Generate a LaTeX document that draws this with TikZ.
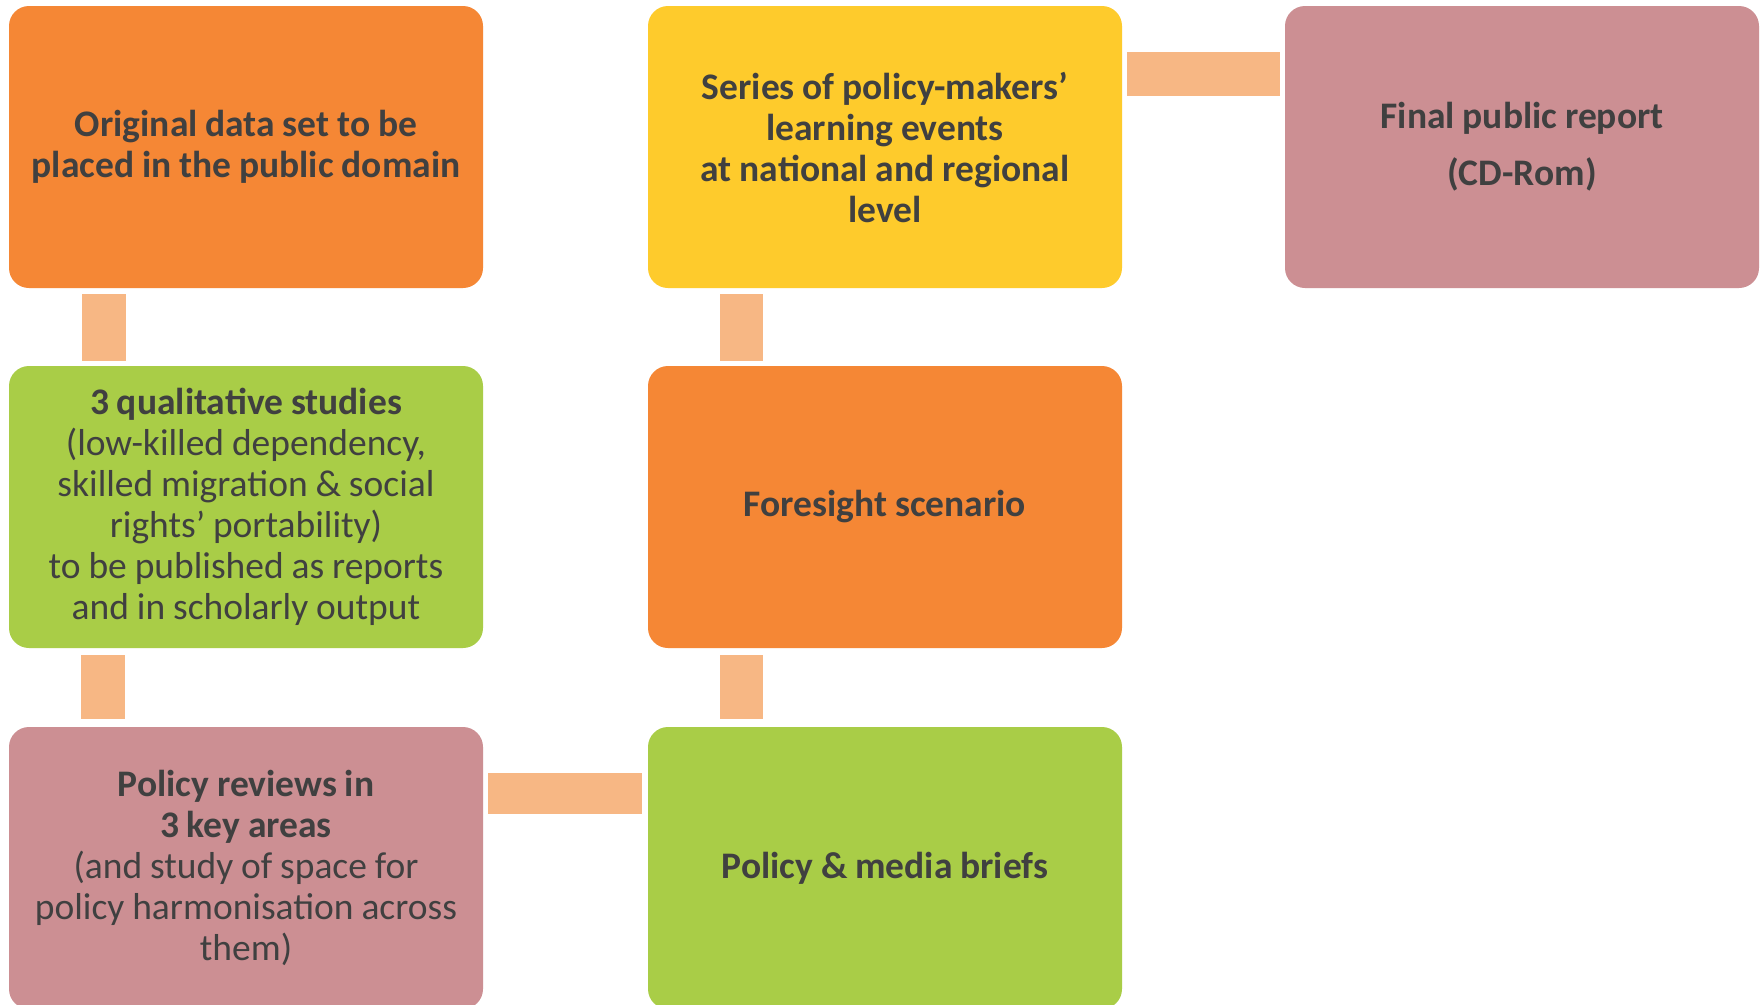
\documentclass[tikz,border=0pt]{standalone}
\usepackage{fontspec}
\setmainfont{Carlito}
\usetikzlibrary{calc}
\newcommand\tightspaces{\spaceskip=0.21em\relax}
\definecolor{corange}{HTML}{F58735}
\definecolor{cyellow}{HTML}{FECB2C}
\definecolor{cgreen}{HTML}{A9CD47}
\definecolor{cpink}{HTML}{CC8F93}
\definecolor{cconn}{HTML}{F7B784}
\definecolor{ctext}{HTML}{404040}
\begin{document}
\begin{tikzpicture}[x=1pt,y=-1pt,
  box/.style={rounded corners=20pt, minimum width=474pt, minimum height=282pt,
    inner sep=0pt, align=center, text=ctext, text width=470pt,
    font=\fontsize{37.5}{41}\selectfont, execute at begin node=\tightspaces},
  bbox/.style={box, font=\fontsize{37.5}{41}\selectfont\bfseries},
  conn/.style={fill=cconn}]
\useasboundingbox[fill=white] (0,0) rectangle (1761,1004);
\node[bbox, fill=corange] (orig) at (246,147)
  {Original data set to be\\placed in the public domain};
\node[bbox, fill=cyellow] (series) at (885,147)
  {Series of policy-makers’\\learning events\\at national and regional\\level};
\node[bbox, fill=cpink] (final) at (1522,147)
  {Final public report\\[16pt](CD-Rom)};
\node[box, fill=cgreen] (qual) at (246,507)
  {\textbf{3 qualitative studies}\\(low-killed dependency,\\skilled migration \& social\\rights’ portability)\\to be published as reports\\and in scholarly output};
\node[bbox, fill=corange] (fore) at (885,507)
  {Foresight scenario};
\node[box, fill=cpink] (rev) at (246,868)
  {\textbf{Policy reviews in}\\\textbf{3 key areas}\\(and study of space for\\policy harmonisation across\\them)};
\node[bbox, fill=cgreen] (brief) at (885,868)
  {Policy \& media briefs};
% connectors
\fill[conn] ($(orig.south west)+(73,6)$) rectangle ($(qual.north west)+(117,-5)$);
\fill[conn] ($(qual.south west)+(72,7)$) rectangle ($(rev.north west)+(116,-8)$);
\fill[conn] ($(series.south west)+(72,6)$) rectangle ($(fore.north west)+(115,-5)$);
\fill[conn] ($(fore.south west)+(72,7)$) rectangle ($(brief.north west)+(115,-8)$);
\fill[conn] ($(series.north east)+(5,46)$) rectangle ($(final.north west)+(-5,90)$);
\fill[conn] ($(rev.north east)+(5,46)$) rectangle ($(brief.north west)+(-6,87)$);
\end{tikzpicture}
\end{document}
